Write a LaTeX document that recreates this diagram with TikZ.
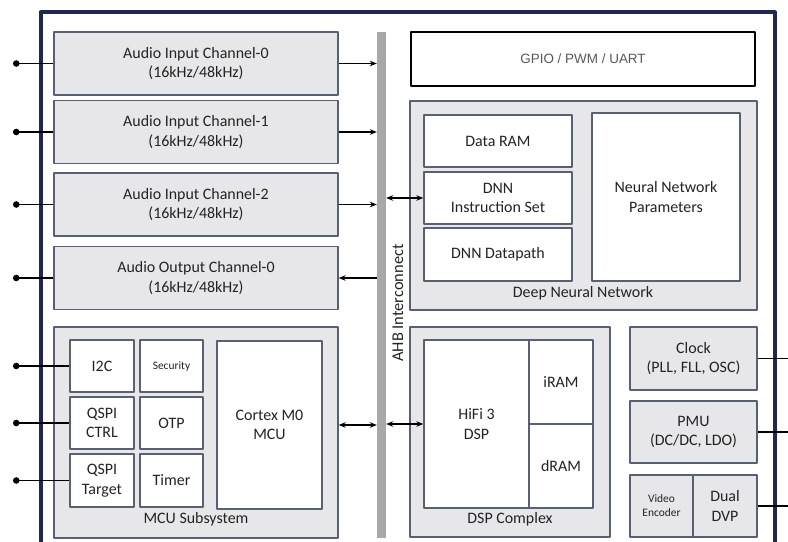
\documentclass[tikz,border=0pt]{standalone}
\usepackage{fontspec}
\setmainfont{Carlito}
\newfontfamily\arialfont{Liberation Sans}
\usetikzlibrary{arrows.meta}
\definecolor{navy}{RGB}{30,40,82}
\definecolor{edgeg}{RGB}{88,96,116}
\definecolor{boxg}{RGB}{231,231,233}
\definecolor{busg}{RGB}{168,168,168}
\definecolor{txtg}{RGB}{35,35,35}
\begin{document}
\begin{tikzpicture}[x=1bp,y=-1bp,>={Stealth[length=7bp,width=5.5bp]},line join=round,
	font=\fontsize{16}{19.5}\selectfont,text=txtg,
	wh/.style 2 args={minimum width=#1bp,minimum height=#2bp},
	grp/.style={draw=edgeg,line width=1.3bp,fill=boxg,inner sep=0pt,align=center},
	cell/.style={draw=edgeg,line width=1.3bp,fill=white,inner sep=0pt,align=center},
	conn/.style={line width=1.2bp},
	pinline/.style={{Circle[length=6.5bp]}-,line width=1.2bp},
	small/.style={font=\fontsize{11.5}{14}\selectfont}]
	\useasboundingbox (0,0) rectangle (788,542);
	\path (40.5,12.5) coordinate (tl) (775,12.5) coordinate (tr)
	(13,0) coordinate (lft) (788,0) coordinate (rim);
	\draw[navy,line width=4bp] (tl |- rim) ++(0,545) -- (tl) -- (tr) -- ++(0,535);
	% AHB bus
	\node[fill=busg,inner sep=0pt,wh={9}{506}] (bus) at (381.5,285) {};
	\node[rotate=90,font=\fontsize{16.5}{19}\selectfont] (ahb) at (398,303) {AHB Interconnect};
	% audio channels
	\foreach \n/\y/\t in {ch0/63.5/Audio Input Channel-0,ch1/132/Audio Input Channel-1,
		ch2/204.5/Audio Input Channel-2,out0/278/Audio Output Channel-0}
	\node[grp,wh={284}{63}] (\n) at (196,\y) {\t\\(16kHz/48kHz)};
	\foreach \n in {ch0,ch1,ch2}
	\draw[conn,->] (\n.east) -- (\n.east -| bus.west);
	\draw[conn,->] (out0.east -| bus.west) -- (out0.east);
	% GPIO
	\node[draw=black,line width=2.8bp,fill=white,wh={344}{54},text=black!65,
	font={\arialfont\fontsize{13.5}{16}\selectfont}] (gpio) at (583,59) {GPIO / PWM / UART};
	% deep neural network
	\node[grp,wh={347}{209}] (dnn) at (583.5,205.5) {};
	\node[cell,wh={148}{52}] (dram) at (498,141) {Data RAM};
	\node[cell,wh={148}{52}] (dnnis) at (498,198) {DNN\\Instruction Set};
	\node[cell,wh={148}{53}] (dnndp) at (498,254.5) {DNN Datapath};
	\node[cell,wh={148}{168}] (nnp) at (666,197) {Neural Network\\Parameters};
	\node (dnnlbl) at (583,293) {Deep Neural Network};
	\draw[conn,<->] (dnnis.west -| bus.east) -- (dnnis.west);
	% MCU subsystem
	\node[grp,wh={284}{211}] (mcu) at (196,432.5) {};
	\node[cell,wh={64}{52}] (i2c) at (102,366) {I2C};
	\node[cell,wh={63}{52},small] (sec) at (171.5,366) {Security};
	\node[cell,wh={64}{52}] (qctrl) at (102,423) {QSPI\\CTRL};
	\node[cell,wh={63}{52}] (otp) at (171.5,423) {OTP};
	\node[cell,wh={64}{53}] (qtgt) at (102,480.5) {QSPI\\Target};
	\node[cell,wh={63}{53}] (tmr) at (171.5,480.5) {Timer};
	\node[cell,wh={105}{168}] (cortex) at (269.5,425) {Cortex M0\\MCU};
	\node (mculbl) at (196,519) {MCU Subsystem};
	\draw[conn,<->] (cortex -| mcu.east) -- (cortex -| bus.west);
	% DSP complex
	\node[grp,wh={200}{210}] (dsp) at (510,432) {};
	\node[cell,wh={105}{168}] (hifi) at (476.5,424) {HiFi 3\\DSP};
	\node[cell,wh={64}{84}] (iram) at (561,382) {iRAM};
	\node[cell,wh={64}{84}] (dram2) at (561,466) {dRAM};
	\node (dsplbl) at (510,519) {DSP Complex};
	\draw[conn,<->] (hifi.west -| bus.east) -- (hifi.west);
	% clock, power, video
	\node[grp,wh={127}{63}] (clk) at (693.5,358.5) {Clock\\(PLL, FLL, OSC)};
	\node[grp,wh={127}{62}] (pmu) at (693.5,432) {PMU\\(DC/DC, LDO)};
	\node[grp,wh={63}{62},small] (venc) at (661.5,506) {Video\\Encoder};
	\node[grp,wh={64}{62}] (dvp) at (725,506) {Dual\\DVP};
	\foreach \n in {clk,pmu,dvp}
	\draw[conn] (\n.east) -- (\n.east -| rim);
	% pins on the left
	\foreach \n in {ch0,ch1,ch2,out0,i2c,qctrl,qtgt}
	\draw[pinline] (lft |- \n.west) -- (\n.west -| mcu.west) -- (\n.west);
\end{tikzpicture}
\end{document}
